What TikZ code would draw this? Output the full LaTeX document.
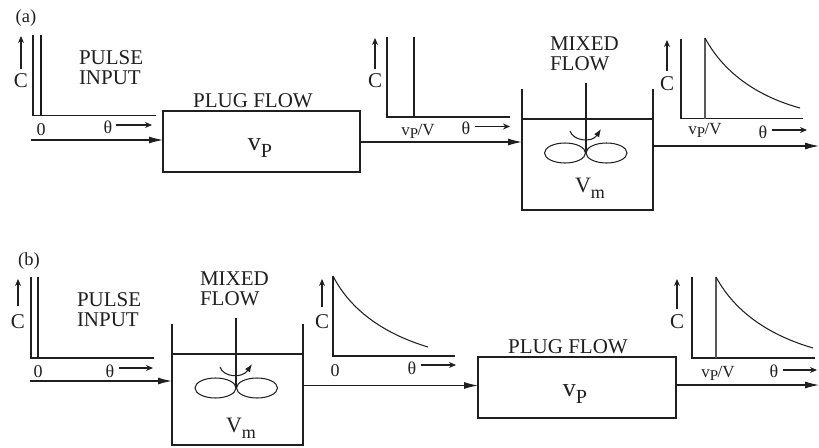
\documentclass[tikz,border=0pt]{standalone}
\usepackage{fontspec}
\setmainfont{Liberation Serif}
\usetikzlibrary{arrows.meta,shapes.geometric}
\newcommand{\vsubP}{\fontsize{26}{26}\selectfont v\raisebox{-7pt}{\fontsize{20}{20}\selectfont P}}
\newcommand{\Vsubm}{\fontsize{22}{22}\selectfont V\raisebox{-6pt}{\fontsize{18}{18}\selectfont m}}
\newcommand{\vpv}{\fontsize{17}{17}\selectfont v\raisebox{-3pt}{\fontsize{15}{15}\selectfont P}\kern-0.5pt/V}
\tikzset{
  x=1pt,y=-1pt,
  ln/.style={draw=black!88,line width=1.05pt,line cap=butt},
  heavy/.style={draw=black!90,line width=1.5pt},
  flow/.style={ln,-{Latex[length=14pt,width=7pt]}},
  small/.style={ln,-{Stealth[length=7pt,width=6pt]}},
  txt/.style={inner sep=0pt,outer sep=0pt,text=black!88},
  caps/.style={txt,align=left,anchor=west,font=\fontsize{21}{20}\selectfont},
  lab/.style={txt,font=\fontsize{18.5}{18.5}\selectfont},
  cee/.style={txt,font=\fontsize{21}{21}\selectfont},
  num/.style={txt,font=\fontsize{18}{18}\selectfont},
  th/.style={txt,font=\fontsize{18}{18}\selectfont},
  pf/.style={ln,draw,inner sep=0pt,outer sep=0pt},
  hole/.style={inner sep=0pt,outer sep=0pt},
  blade/.style={ln,draw,ellipse,inner sep=0pt,outer sep=0pt,minimum width=41pt,minimum height=20pt},
}
\begin{document}
\begin{tikzpicture}
\useasboundingbox (0,0) rectangle (819,447);

% ---------- (a) ----------
\node[lab] (la) at (26,18) {(a)};
% graph 1
\coordinate (a1t) at (33,35); \coordinate (a1o) at (33,115.5); \coordinate (a1e) at (156,115.5);
\coordinate (p1t) at (41,35); \coordinate (p1b) at (41,115.5);
\draw[ln] (a1t) -- (a1o) -- (a1e);
\draw[heavy] (p1t) -- (p1b);
\coordinate (c1s) at (21,69); \coordinate (c1e) at (21,36);
\draw[small,line width=1.3pt] (c1s) -- (c1e);
\node[cee] (c1) at (21,81) {C};
\node[caps] (pi1) at (79,68) {PULSE\\INPUT};
\node[num] (z1) at (41,130) {0};
\node[th] (t1) at (108,127) {θ};
\coordinate (t1a) at (116,125); \coordinate (t1b) at (152,125);
\draw[small] (t1a) -- (t1b);
% plug flow a
\node[pf,minimum width=197pt,minimum height=61pt] (pfa) at (261.5,141.5) {};
\node[caps,anchor=center] (pfal) at (253,101) {PLUG FLOW};
\node[txt] (vpa) at (260,148) {\vsubP};
\coordinate (ina) at (31,140);
\draw[flow] (ina) -- (pfa.west |- ina);
% graph 2
\coordinate (a2t) at (387,37); \coordinate (a2o) at (387,117); \coordinate (a2e) at (510,117);
\coordinate (p2t) at (414,37); \coordinate (p2b) at (414,117);
\draw[ln] (a2t) -- (a2o) -- (a2e);
\draw[ln] (p2t) -- (p2b);
\coordinate (c2s) at (375,69); \coordinate (c2e) at (375,38);
\draw[small] (c2s) -- (c2e);
\node[cee] (c2) at (375,81) {C};
\node[txt] (vv2) at (418,131) {\vpv};
\node[th] (t2) at (466,128) {θ};
\coordinate (t2a) at (475,126.5); \coordinate (t2b) at (510,126.5);
\draw[small] (t2a) -- (t2b);
% tank a
\node[hole,minimum width=131pt,minimum height=91pt] (tka) at (587.5,164.5) {};
\draw[ln] (tka.west |- 0,89) -- (tka.south west) -- (tka.south east) -- (tka.east |- 0,89);
\draw[ln] (tka.north west) -- (tka.north east);
\coordinate (sha) at (586,83); \coordinate (hba) at (586,153);
\draw[ln] (sha) -- (hba);
\node[blade] (ba1) at (565,153) {};
\node[blade] (ba2) at (606.5,153) {};
\coordinate (cua) at (570,131); \coordinate (cub) at (601,129);
\draw[ln,-{Latex[length=8pt,width=6pt]}] (cua) .. controls (573,141) and (592,143) .. (cub);
\node[caps] (mfa) at (550,54) {MIXED\\FLOW};
\node[txt] (vma) at (590,188) {\Vsubm};
\coordinate (ptoa) at (360,142);
\draw[flow] (pfa.east |- ptoa) -- (tka.west |- ptoa);
\coordinate (outa) at (819,146);
\draw[flow] (tka.east |- outa) -- (outa);
% graph 3
\coordinate (a3t) at (681,39); \coordinate (a3o) at (681,118.5); \coordinate (a3e) at (803,118.5);
\coordinate (p3t) at (705,38); \coordinate (p3b) at (705,118.5);
\draw[ln] (a3t) -- (a3o) -- (a3e);
\draw[ln,draw=black!65,line width=1.3pt] (p3t) -- (p3b);
\coordinate (d3e) at (800,108);
\draw[ln] (p3t) .. controls (725,75) and (760,97) .. (d3e);
\coordinate (c3s) at (667,71); \coordinate (c3e) at (667,40);
\draw[small] (c3s) -- (c3e);
\node[cee] (c3) at (667,84) {C};
\node[txt] (vv3) at (705,130) {\vpv};
\node[th] (t3) at (763,132) {θ};
\coordinate (t3a) at (772,130); \coordinate (t3b) at (807,130);
\draw[small] (t3a) -- (t3b);

% ---------- (b) ----------
\node[lab] (lb) at (29,261) {(b)};
% graph 4
\coordinate (b1t) at (31,277); \coordinate (b1o) at (31,358); \coordinate (b1e) at (154,358);
\coordinate (q1t) at (38,277); \coordinate (q1b) at (38,358);
\draw[ln] (b1t) -- (b1o) -- (b1e);
\draw[ln,line width=1.2pt] (q1t) -- (q1b);
\coordinate (d1s) at (18,306); \coordinate (d1e) at (18,279);
\draw[small] (d1s) -- (d1e);
\node[cee] (cb1) at (18,322) {C};
\node[caps] (pi2) at (77,310) {PULSE\\INPUT};
\node[num] (z2) at (38,372) {0};
\node[th] (t4) at (110,371) {θ};
\coordinate (t4a) at (119,368); \coordinate (t4b) at (153,368);
\draw[small] (t4a) -- (t4b);
% tank b
\node[hole,minimum width=131pt,minimum height=91pt] (tkb) at (237.5,399.5) {};
\draw[ln] (tkb.west |- 0,324) -- (tkb.south west) -- (tkb.south east) -- (tkb.east |- 0,324);
\draw[ln] (tkb.north west) -- (tkb.north east);
\coordinate (shb) at (236,318); \coordinate (hbb) at (236,388);
\draw[ln] (shb) -- (hbb);
\node[blade] (bb1) at (215.5,388) {};
\node[blade] (bb2) at (257,388) {};
\coordinate (cuc) at (220,367); \coordinate (cud) at (252,364);
\draw[ln,-{Latex[length=8pt,width=6pt]}] (cuc) .. controls (223,377) and (242,379) .. (cud);
\node[caps] (mfb) at (200,289) {MIXED\\FLOW};
\node[txt] (vmb) at (241,428) {\Vsubm};
\coordinate (inb) at (30,381);
\draw[flow,line width=1.4pt] (inb) -- (tkb.west |- inb);
% graph 5
\coordinate (b2t) at (333,276); \coordinate (b2o) at (333,356); \coordinate (b2e) at (455,356);
\draw[ln] (b2t) -- (b2o) -- (b2e);
\coordinate (d2e) at (428,347);
\draw[ln] (b2t) .. controls (352,313) and (388,335) .. (d2e);
\coordinate (d4s) at (322,307); \coordinate (d4e) at (322,279);
\draw[small] (d4s) -- (d4e);
\node[cee] (cb2) at (322,322) {C};
\node[num] (z3) at (335,371) {0};
\node[th] (t5) at (412,368) {θ};
\coordinate (t5a) at (421,365); \coordinate (t5b) at (456,365);
\draw[small] (t5a) -- (t5b);
% plug flow b
\node[pf,minimum width=198pt,minimum height=61pt] (pfb) at (577,387.5) {};
\node[caps,anchor=center] (pfbl) at (568,347) {PLUG FLOW};
\node[txt] (vpb) at (575,394) {\vsubP};
\coordinate (ptob) at (304,385.5);
\draw[flow] (tkb.east |- ptob) -- (pfb.west |- ptob);
\coordinate (outb) at (819,385);
\draw[flow] (pfb.east |- outb) -- (outb);
% graph 6
\coordinate (b3t) at (692,277); \coordinate (b3o) at (692,358); \coordinate (b3e) at (815,358);
\coordinate (q3t) at (716,277); \coordinate (q3b) at (716,358);
\draw[ln] (b3t) -- (b3o) -- (b3e);
\draw[ln,draw=black!65,line width=1.3pt] (q3t) -- (q3b);
\coordinate (d3f) at (813,348);
\draw[ln] (q3t) .. controls (736,314) and (772,336) .. (d3f);
\coordinate (d6s) at (677,309); \coordinate (d6e) at (677,279);
\draw[small] (d6s) -- (d6e);
\node[cee] (cb3) at (677,322) {C};
\node[txt] (vv6) at (718,373) {\vpv};
\node[th] (t6) at (774,371) {θ};
\coordinate (t6a) at (783,370); \coordinate (t6b) at (817,370);
\draw[small] (t6a) -- (t6b);
\end{tikzpicture}
\end{document}
